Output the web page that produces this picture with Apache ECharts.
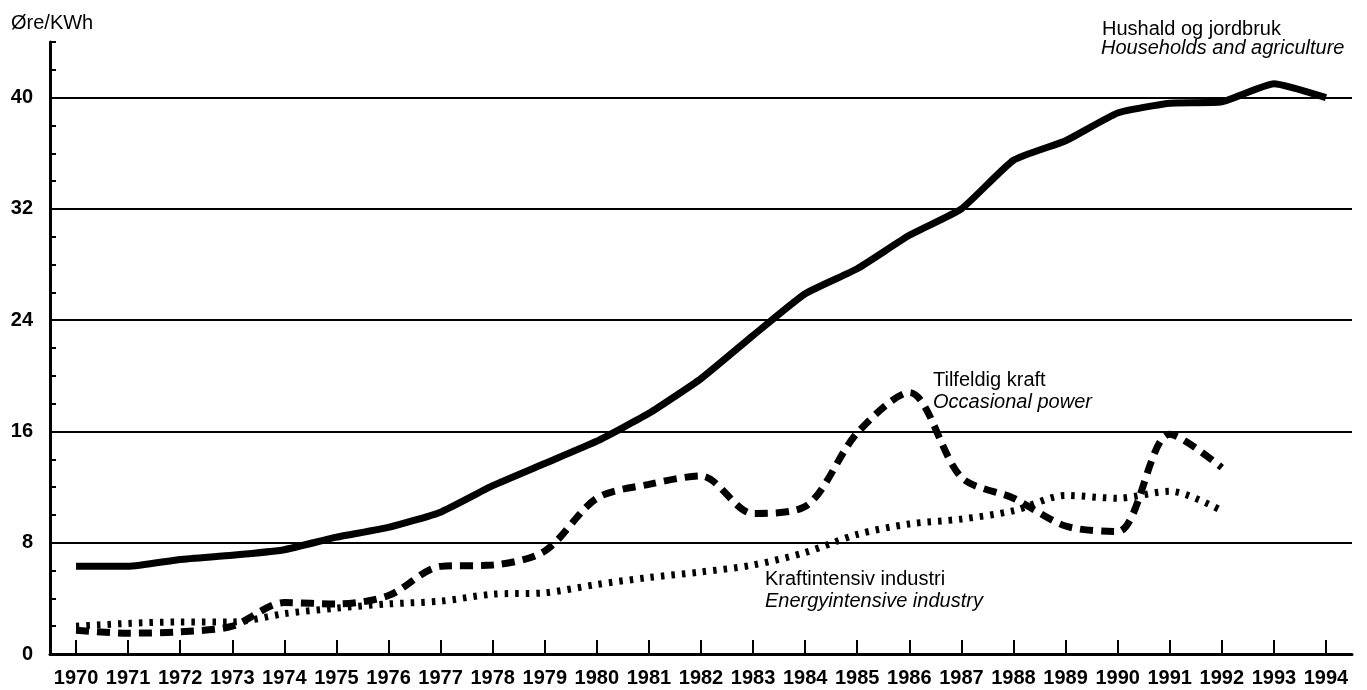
<!DOCTYPE html>
<html>
<head>
<meta charset="utf-8">
<script src="https://cdn.jsdelivr.net/npm/echarts@6/dist/echarts.min.js"></script>
<style>
html,body{margin:0;padding:0;background:#fff;}
#chart{width:1367px;height:690px;}
</style>
</head>
<body>
<div id="chart"></div>
<script>
const years = ['1970','1971','1972','1973','1974','1975','1976','1977','1978','1979','1980','1981','1982','1983','1984','1985','1986','1987','1988','1989','1990','1991','1992','1993','1994'];
const households = [6.3,6.3,6.8,7.1,7.5,8.4,9.1,10.2,12.1,13.7,15.3,17.3,19.8,22.9,25.9,27.7,30.1,32.0,35.5,36.9,38.9,39.6,39.7,41.0,40.0];
const occasional = [1.7,1.5,1.6,2.0,3.7,3.6,4.2,6.3,6.4,7.4,11.2,12.2,12.8,10.1,10.6,15.9,18.8,12.7,11.2,9.2,8.8,15.8,13.4,null,null];
const energyIntensive = [2.0,2.2,2.3,2.3,2.9,3.3,3.6,3.8,4.3,4.4,5.0,5.5,5.9,6.4,7.3,8.6,9.35,9.7,10.3,11.4,11.2,11.7,10.3,null,null];
const gridValues = [8,16,24,32,40];
const yLabelValues = [0,8,16,24,32,40];

const FONT = '"Liberation Sans", Arial, Helvetica, sans-serif';
const chart = echarts.init(document.getElementById('chart'), null, {renderer:'canvas'});

chart.setOption({
  backgroundColor:'#ffffff',
  animation:false,
  textStyle:{fontFamily:FONT,color:'#000'},
  grid:{left:50,right:15,top:42,bottom:36,containLabel:false},
  xAxis:{
    type:'category',
    data:years,
    boundaryGap:true,
    axisLine:{show:true,lineStyle:{color:'#000',width:3}},
    axisTick:{show:true,inside:true,alignWithLabel:true,length:14,lineStyle:{color:'#000',width:2}},
    axisLabel:{show:true,interval:0,color:'#000',fontFamily:FONT,fontWeight:'bold',fontSize:20,margin:14},
    splitLine:{show:false}
  },
  yAxis:{
    type:'value',
    min:0,max:44,interval:2,
    axisLine:{show:true,lineStyle:{color:'#000',width:3}},
    axisTick:{show:true,inside:true,length:6,lineStyle:{color:'#000',width:2}},
    axisLabel:{
      show:true,color:'#000',fontFamily:FONT,fontWeight:'bold',fontSize:20,margin:17,
      formatter:function(v){return yLabelValues.indexOf(v)>=0?String(v):'';}
    },
    splitLine:{show:false}
  },
  title:{
    text:'Øre/KWh',left:6,top:8,
    textStyle:{fontFamily:FONT,fontWeight:'normal',fontSize:20,color:'#000'}
  },
  graphic:[
    {type:'text',left:1102,top:19,style:{text:'Hushald og jordbruk',font:'20px '+FONT,fill:'#000'}},
    {type:'text',left:1101,top:38,style:{text:'Households and agriculture',font:'italic 20px '+FONT,fill:'#000'}},
    {type:'text',left:933,top:370,style:{text:'Tilfeldig kraft',font:'20px '+FONT,fill:'#000'}},
    {type:'text',left:933,top:392,style:{text:'Occasional power',font:'italic 20px '+FONT,fill:'#000'}},
    {type:'text',left:765,top:569,style:{text:'Kraftintensiv industri',font:'20px '+FONT,fill:'#000'}},
    {type:'text',left:765,top:591,style:{text:'Energyintensive industry',font:'italic 20px '+FONT,fill:'#000'}}
  ],
  series:[
    {
      name:'Hushald og jordbruk',
      type:'line',
      data:households,
      symbol:'none',
      smooth:0.15,
      lineStyle:{color:'#000',width:7,cap:'butt',join:'round'},
      z:5,
      markLine:{
        silent:true,
        symbol:['none','none'],
        label:{show:false},
        lineStyle:{type:'solid',color:'#000',width:2},
        data:gridValues.map(v=>({yAxis:v})),
        z:1
      }
    },
    {
      name:'Tilfeldig kraft',
      type:'line',
      data:occasional,
      symbol:'none',
      smooth:0.3,
      lineStyle:{color:'#000',width:7,type:[13,8],cap:'butt'},
      z:4
    },
    {
      name:'Kraftintensiv industri',
      type:'line',
      data:energyIntensive,
      symbol:'none',
      smooth:0.3,
      lineStyle:{color:'#000',width:7,type:[3.5,7],cap:'butt'},
      z:3
    }
  ]
});
</script>
</body>
</html>
